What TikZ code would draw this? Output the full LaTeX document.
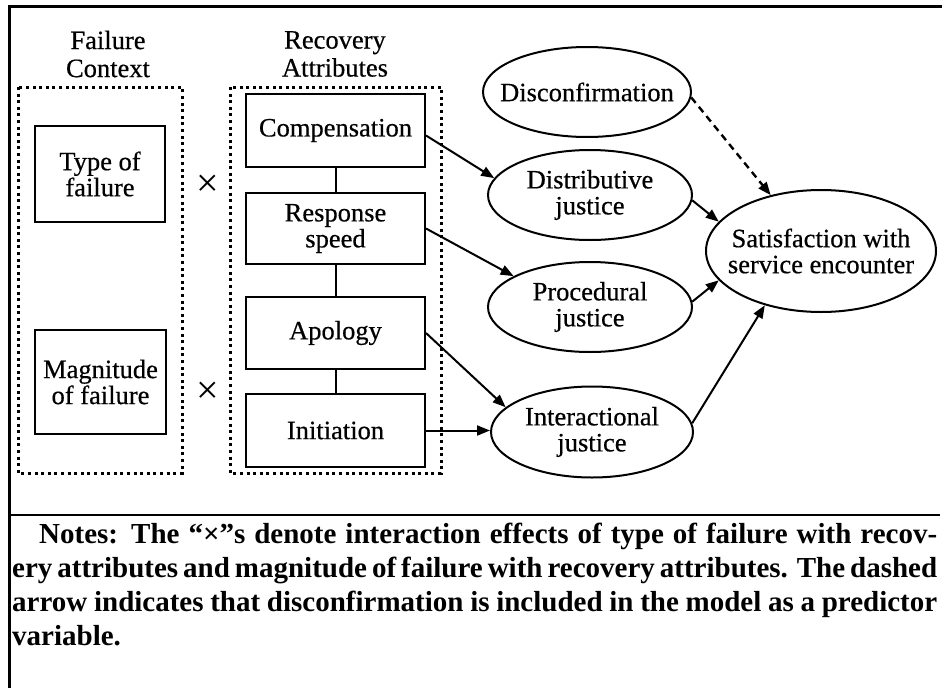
\documentclass[tikz,border=0pt]{standalone}
\usepackage{fontspec}
\setmainfont{Liberation Serif}
\newfontfamily\dgmfont[FakeBold=0.5]{Liberation Serif}
\usetikzlibrary{arrows.meta,shapes.geometric}
\begin{document}
\begin{tikzpicture}[x=1pt,y=-1pt,
  every node/.style={font=\dgmfont\fontsize{26.5}{26}\selectfont},
  box/.style={draw, line width=2pt, inner sep=0pt, align=center},
  ell/.style={draw, ellipse, line width=2pt, inner sep=0pt},
  grp/.style={line width=3pt, dash pattern=on 3pt off 3.6pt},
  link/.style={line width=2pt},
  arr/.style={line width=2pt, -{Triangle[length=13pt,width=10pt]}},
  darr/.style={line width=2.4pt, dash pattern=on 7pt off 5pt, -{Triangle[length=13pt,width=10pt]}},
  ttl/.style={align=center, inner sep=0pt, font=\dgmfont\fontsize{26.5}{28}\selectfont},
  lbl/.style={align=center, font=\dgmfont\fontsize{26.5}{26}\selectfont},
  cross/.style={inner sep=0pt, font=\fontsize{40}{40}\selectfont},
  notes/.style={anchor=north west, inner sep=0pt, align=left, font=\bfseries\fontsize{29}{34}\selectfont}
]
\useasboundingbox (0,0) rectangle (942,688);

% page frame and rule above the notes
\draw[line width=3pt] (942,6) -- (9,6) -- (9,688);
\draw[line width=2.6pt] (10,515) -- (940,515);

% group headings
\node[ttl] (ctxtitle) at (108,54) {Failure\\Context};
\node[ttl] (rectitle) at (335,54) {Recovery\\Attributes};

% dotted group frames
\draw[grp] (18,87) rectangle (182,473);
\draw[grp] (230,87) rectangle (441,473);

% failure context
\node[box, minimum width=130pt, minimum height=96pt] (type) at (100,174) {Type of\\failure};
\node[box, minimum width=131pt, minimum height=104pt] (mag) at (100.5,382) {Magnitude\\of failure};

% interaction marks
\node[cross] (x1) at (208,186) {×};
\node[cross] (x2) at (208,393) {×};

% recovery attributes
\node[box, minimum width=179pt, minimum height=73pt] (comp) at (335.5,130.5) {Compensation};
\node[box, minimum width=179pt, minimum height=71pt] (resp) at (335.5,228.5) {Response\\speed};
\node[box, minimum width=179pt, minimum height=72pt] (apol) at (335.5,333) {Apology};
\node[box, minimum width=179pt, minimum height=73pt] (init) at (335.5,430.5) {Initiation};
\draw[link] (comp.south) -- (resp.north);
\draw[link] (resp.south) -- (apol.north);
\draw[link] (apol.south) -- (init.north);

% justice perceptions and outcome
\node[ell, minimum width=208pt, minimum height=90pt, label={[lbl]center:Disconfirmation}] (disc) at (587,92) {};
\node[ell, minimum width=204pt, minimum height=90pt, label={[lbl]center:Distributive\\justice}] (dist) at (590,195) {};
\node[ell, minimum width=204pt, minimum height=90pt, label={[lbl]center:Procedural\\justice}] (proc) at (590,307) {};
\node[ell, minimum width=202pt, minimum height=91pt, label={[lbl]center:Interactional\\justice}] (inter) at (592,432) {};
\node[ell, minimum width=230pt, minimum height=122pt, label={[lbl]center:Satisfaction with\\service encounter}] (sat) at (821,251) {};

% paths
\draw[arr] ([yshift=-5pt]comp.east) -- (dist.170);
\draw[arr] (resp.east) -- (proc.158);
\draw[arr] (apol.east) -- (inter.164);
\draw[arr] (init.east) -- (init.east -| inter.west);
\draw[arr] (dist.-3) -- (sat.164);
\draw[arr] (proc.3) -- (sat.196);
\draw[arr] (inter.5) -- (sat.224);
\draw[darr] (disc.-3) -- (sat.132);

% notes
\node[notes] (notes) at (12,523) {%
\makebox[925pt][s]{\hspace*{27pt}Notes: The “×”s denote interaction effects of type of failure with recov-}\\
\makebox[925pt][s]{ery attributes and magnitude of failure with recovery attributes. The dashed}\\
\makebox[925pt][s]{arrow indicates that disconfirmation is included in the model as a predictor}\\
variable.};
\end{tikzpicture}
\end{document}
